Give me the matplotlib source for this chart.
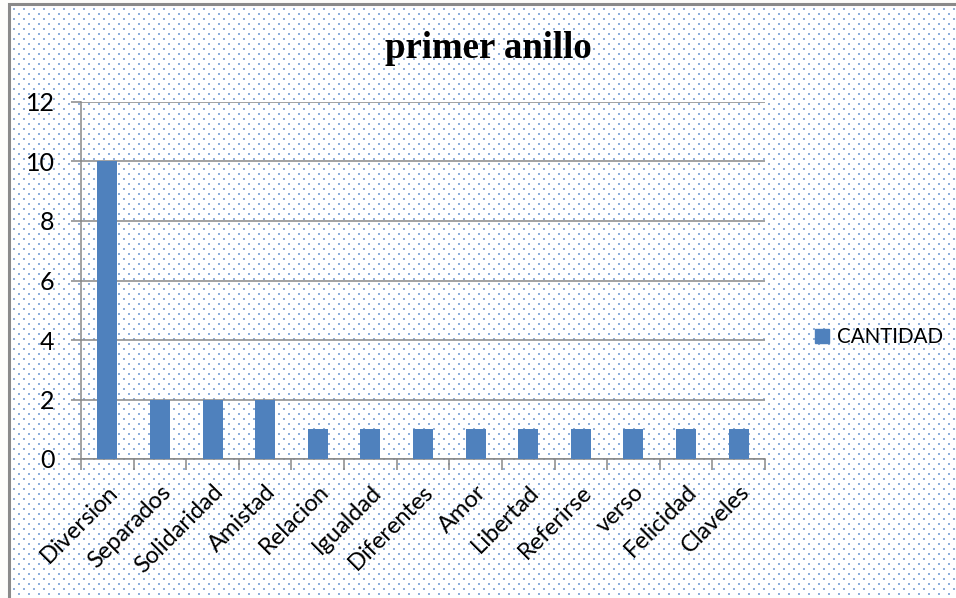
import numpy as np
import matplotlib
matplotlib.use("Agg")
import matplotlib.pyplot as plt
import matplotlib.transforms as mtransforms
from matplotlib.patches import Rectangle, Patch

# === DATA ===
categorias = ["Diversion", "Separados", "Solidaridad", "Amistad", "Relacion",
              "Igualdad", "Diferentes", "Amor", "Libertad", "Referirse",
              "verso", "Felicidad", "Claveles"]
cantidad = [10, 2, 2, 2, 1, 1, 1, 1, 1, 1, 1, 1, 1]
y_ticks = [0, 2, 4, 6, 8, 10, 12]
titulo = "primer anillo"
serie = "CANTIDAD"

W, H = 956, 598
BAR = "#4F81BD"
GRID = "#878787"

plt.rcParams['font.family'] = ['Lato', 'DejaVu Sans']

fig = plt.figure(figsize=(W / 100, H / 100), dpi=100, facecolor="#fdfdfb")

# background with the dotted fill of the chart area
bg = fig.add_axes([0, 0, 1, 1], zorder=0)
bg.set_xlim(0, W)
bg.set_ylim(H, 0)
bg.axis('off')
bg.add_patch(Rectangle((9, 4), W + 20, H + 20, facecolor="white",
                       edgecolor="#8a8a8a", lw=2.2))
gx, gy = [], []
for r, yy in enumerate(np.arange(9, H, 5)):
    off = 0 if r % 2 == 0 else 5
    for xx in np.arange(14 + off, W, 10):
        gx.append(xx)
        gy.append(yy)
bg.scatter(gx, gy, s=1.3, marker='s', color="#8fb0dc", linewidths=0)

# main chart
ax = fig.add_axes([81 / W, (H - 459) / H, 684 / W, 357 / H], zorder=1)
ax.patch.set_alpha(0)
x = np.arange(len(categorias))
ax.bar(x, cantidad, width=0.38, color=BAR, zorder=3)

ax.set_xlim(-0.5, len(categorias) - 0.5)
ax.set_ylim(0, 12)
ax.set_yticks(y_ticks)
ax.yaxis.grid(True, color=GRID, lw=1.1)
ax.set_axisbelow(True)
for s in ["top", "right"]:
    ax.spines[s].set_visible(False)
for s in ["left", "bottom"]:
    ax.spines[s].set_color(GRID)
    ax.spines[s].set_linewidth(1.1)

ax.set_xticks(x)
ax.set_xticklabels(categorias, rotation=45, ha='right', va='top',
                   rotation_mode='anchor', fontsize=17)
shift = mtransforms.ScaledTranslation(6 / 100, 0, fig.dpi_scale_trans)
for lab in ax.get_xticklabels():
    lab.set_transform(lab.get_transform() + shift)
ax.set_xticks(np.arange(-0.5, len(categorias)), minor=True)
ax.tick_params(axis='x', which='major', length=0, pad=16)
ax.tick_params(axis='x', which='minor', length=8, width=1.1, color=GRID)
ax.tick_params(axis='y', length=7, width=1.1, color=GRID, labelsize=18, pad=12)

fig.text(488 / W, 1 - 48 / H, titulo, ha='center', va='center',
         fontsize=26.5, fontweight='bold', family='Liberation Serif')

ax.legend(handles=[Patch(color=BAR, label=serie)], loc='center left',
          bbox_to_anchor=(807 / W, 1 - 337 / H), bbox_transform=fig.transFigure,
          frameon=False, fontsize=14.8, handlelength=0.68, handleheight=0.68,
          handletextpad=0.4, borderaxespad=0)

fig.savefig("out.png", dpi=100, facecolor=fig.get_facecolor())
